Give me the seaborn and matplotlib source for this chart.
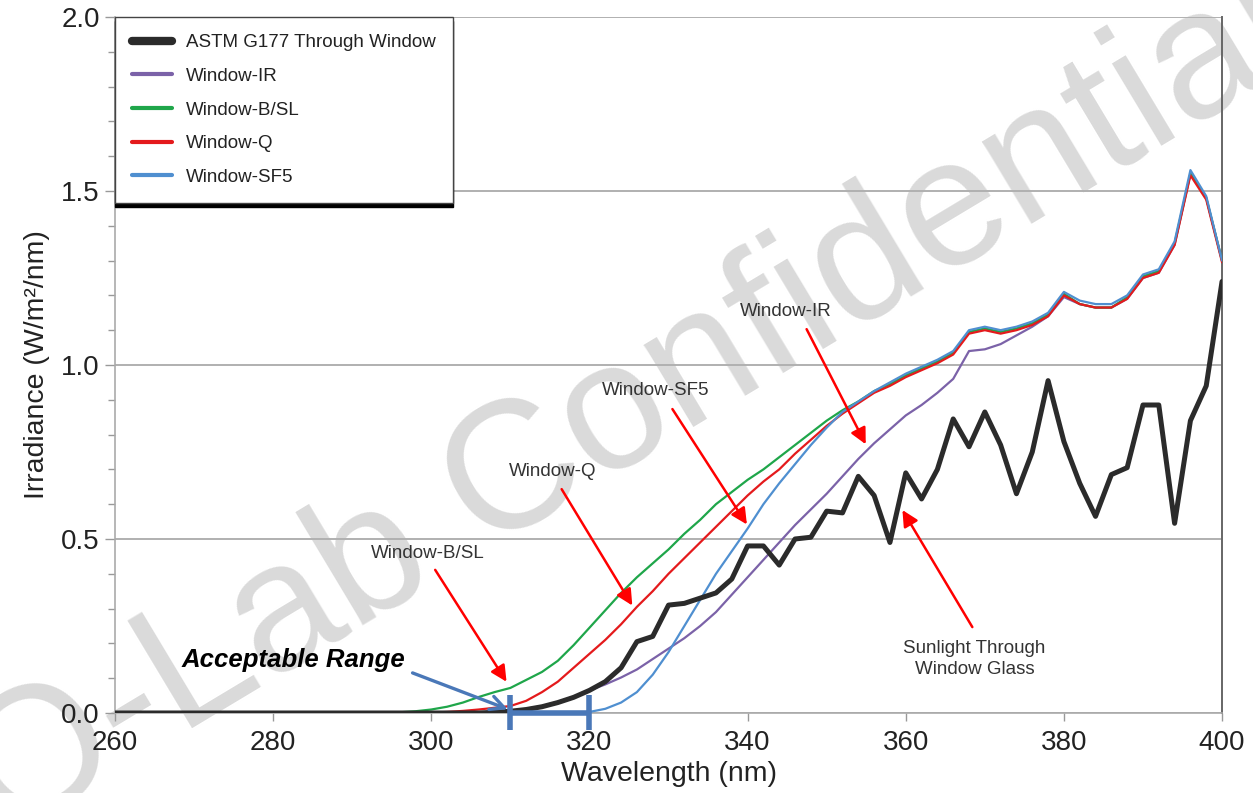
import numpy as np
import pandas as pd
import matplotlib
matplotlib.use("Agg")
import matplotlib.pyplot as plt
import seaborn as sns

# wavelength grid of the window filter curves (nm)
wl = [260] + list(range(296, 401, 2))

b_sl = [0, 0.002, 0.005, 0.010, 0.018, 0.030, 0.046, 0.060, 0.072, 0.095, 0.118,
        0.150, 0.195, 0.245, 0.295, 0.345, 0.390, 0.430, 0.470, 0.515, 0.555,
        0.600, 0.635, 0.670, 0.700, 0.735, 0.770, 0.805, 0.840, 0.870, 0.895,
        0.925, 0.945, 0.970, 0.990, 1.010, 1.035, 1.095, 1.105, 1.095, 1.105,
        1.120, 1.145, 1.205, 1.175, 1.165, 1.165, 1.195, 1.255, 1.270, 1.350,
        1.550, 1.480, 1.300]

q = [0, 0, 0, 0.001, 0.003, 0.006, 0.010, 0.015, 0.020, 0.035, 0.060, 0.090,
     0.130, 0.170, 0.210, 0.255, 0.305, 0.350, 0.400, 0.445, 0.490, 0.535,
     0.580, 0.625, 0.665, 0.700, 0.745, 0.785, 0.825, 0.860, 0.890, 0.920,
     0.940, 0.965, 0.985, 1.005, 1.030, 1.090, 1.100, 1.090, 1.100, 1.115,
     1.140, 1.200, 1.175, 1.165, 1.165, 1.190, 1.250, 1.265, 1.345, 1.545,
     1.475, 1.295]

sf5 = [0, 0, 0, 0, 0, 0, 0, 0, 0, 0, 0, 0, 0, 0.003, 0.012, 0.030, 0.060,
       0.110, 0.175, 0.250, 0.325, 0.400, 0.465, 0.530, 0.600, 0.660, 0.715,
       0.770, 0.820, 0.865, 0.895, 0.925, 0.950, 0.975, 0.995, 1.015, 1.040,
       1.100, 1.110, 1.100, 1.110, 1.125, 1.150, 1.210, 1.185, 1.175, 1.175,
       1.200, 1.260, 1.275, 1.355, 1.560, 1.485, 1.300]

ir = [0, 0, 0, 0, 0, 0, 0.001, 0.003, 0.006, 0.012, 0.020, 0.032, 0.047,
      0.065, 0.082, 0.102, 0.125, 0.155, 0.185, 0.215, 0.250, 0.290, 0.340,
      0.390, 0.440, 0.490, 0.540, 0.585, 0.630, 0.680, 0.730, 0.775, 0.815,
      0.855, 0.885, 0.920, 0.960, 1.040, 1.045, 1.060, 1.085, 1.110, 1.140,
      1.195, 1.175, 1.165, 1.165, 1.190, 1.250, 1.265, 1.345, 1.550, 1.480,
      1.300]

# ASTM G177 sunlight through window glass
wl_astm = [260] + list(range(306, 401, 2))
astm = [0, 0, 0.002, 0.005, 0.010, 0.018, 0.030, 0.045, 0.065, 0.090, 0.130,
        0.205, 0.220, 0.310, 0.315, 0.330, 0.345, 0.385, 0.480, 0.480, 0.425,
        0.500, 0.505, 0.580, 0.575, 0.680, 0.625, 0.490, 0.690, 0.615, 0.700,
        0.845, 0.765, 0.865, 0.770, 0.630, 0.750, 0.955, 0.780, 0.660, 0.565,
        0.685, 0.705, 0.885, 0.885, 0.545, 0.840, 0.940, 1.240]

sns.set_theme(style="white")
plt.rcParams["font.family"] = ["Liberation Sans", "DejaVu Sans"]

fig = plt.figure(figsize=(12.53, 7.93), dpi=100)
ax = fig.add_axes([0.0918, 0.1009, 0.8835, 0.8777])

# watermark, kept under the tick labels and the curves
ax.text(0.505, 0.485, "Q-Lab Confidential", transform=fig.transFigure,
        fontsize=131, color="#dadada", rotation=31, ha="center", va="center",
        rotation_mode="anchor", zorder=0.3, clip_on=False)

sns.lineplot(x=wl, y=ir, color="#7b62a8", lw=1.6, ax=ax, label="Window-IR", zorder=3)
sns.lineplot(x=wl, y=b_sl, color="#1fa64a", lw=1.6, ax=ax, label="Window-B/SL", zorder=3)
sns.lineplot(x=wl, y=q, color="#e41a1c", lw=1.6, ax=ax, label="Window-Q", zorder=3)
sns.lineplot(x=wl, y=sf5, color="#4f8fd0", lw=1.6, ax=ax, label="Window-SF5", zorder=3)
sns.lineplot(x=wl_astm, y=astm, color="#2b2b2b", lw=3.6, ax=ax,
             label="ASTM G177 Through Window", zorder=4)

ax.set_xlim(260, 400)
ax.set_ylim(0, 2.0)
ax.set_xticks(range(260, 401, 20))
ax.set_yticks([0, 0.5, 1.0, 1.5, 2.0])
ax.set_yticks(np.arange(0, 2.01, 0.1), minor=True)
ax.set_yticklabels(["0.0", "0.5", "1.0", "1.5", "2.0"])
ax.yaxis.grid(True, color="#b0b0b0", lw=1.4)
ax.set_axisbelow(True)
ax.tick_params(axis="both", which="major", labelsize=20, colors="#999999",
               labelcolor="#222222", direction="out", length=6, width=1)
ax.tick_params(axis="y", which="minor", direction="out", length=5, width=1,
               colors="#999999", left=True)
ax.tick_params(axis="y", which="major", left=True, length=7, pad=4)
ax.tick_params(axis="x", which="major", bottom=True, length=6, pad=6)

for side in ["left", "bottom"]:
    ax.spines[side].set_color("#aaaaaa")
    ax.spines[side].set_linewidth(1.2)
ax.spines["right"].set_color("#666666")
ax.spines["right"].set_linewidth(1.4)
ax.spines["top"].set_visible(False)

ax.set_xlabel("Wavelength (nm)", fontsize=20.5, color="#222222", labelpad=4)
ax.set_ylabel("Irradiance (W/m²/nm)", fontsize=20.5, color="#222222", labelpad=8)

# legend with black ASTM entry first
handles, labels = ax.get_legend_handles_labels()
order = [4, 0, 1, 2, 3]
leg = ax.legend([handles[i] for i in order], [labels[i] for i in order],
                loc="upper left", borderaxespad=0, fontsize=13.5, frameon=True,
                fancybox=False, handlelength=2.1, handletextpad=0.75,
                labelspacing=0.88, borderpad=0.92,
                shadow={"ox": 0, "oy": -3, "color": "black", "alpha": 1})
leg.get_frame().set_edgecolor("#444444")
leg.get_frame().set_linewidth(1.0)
for line in leg.get_lines():
    line.set_linewidth(3)
leg.get_lines()[0].set_linewidth(6)
for t in leg.get_texts():
    t.set_color("#222222")
leg.set_zorder(10)

# red callouts
red_arrow = dict(arrowstyle="-|>", color="red", lw=1.8, mutation_scale=24)
callouts = [
    ("Window-IR", (344.8, 1.155), (347.3, 1.11), (355.1, 0.765)),
    ("Window-SF5", (328.4, 0.928), (330.3, 0.88), (340.1, 0.535)),
    ("Window-Q", (315.4, 0.695), (316.3, 0.65), (325.6, 0.302)),
    ("Window-B/SL", (299.5, 0.458), (300.3, 0.418), (309.7, 0.083)),
]
for label, txt, start, tip in callouts:
    ax.text(txt[0], txt[1], label, fontsize=13.5, color="#333333",
            ha="center", va="center", zorder=6)
    ax.annotate("", xy=tip, xytext=start, arrowprops=red_arrow, zorder=6)

ax.text(368.7, 0.155, "Sunlight Through\nWindow Glass", fontsize=13.5,
        color="#333333", ha="center", va="center", linespacing=1.25, zorder=6)
ax.annotate("", xy=(359.4, 0.59), xytext=(368.6, 0.24), arrowprops=red_arrow,
            zorder=6)

# acceptable range marker
range_blue = "#4a78b8"
ax.text(282.5, 0.152, "Acceptable Range", fontsize=18.5, fontweight="bold",
        fontstyle="italic", color="black", ha="center", va="center", zorder=6)
ax.annotate("", xy=(310, 0.008), xytext=(297.3, 0.118),
            arrowprops=dict(arrowstyle="->", color=range_blue, lw=2.4,
                            mutation_scale=25), zorder=7)
ax.plot([310, 320], [0, 0], color=range_blue, lw=4, zorder=7, clip_on=False,
        solid_capstyle="butt")
for xb in [310, 320]:
    ax.plot([xb, xb], [0.052, -0.05], color=range_blue, lw=4, zorder=7,
            clip_on=False, solid_capstyle="butt")

fig.savefig("out.png", dpi=100)
